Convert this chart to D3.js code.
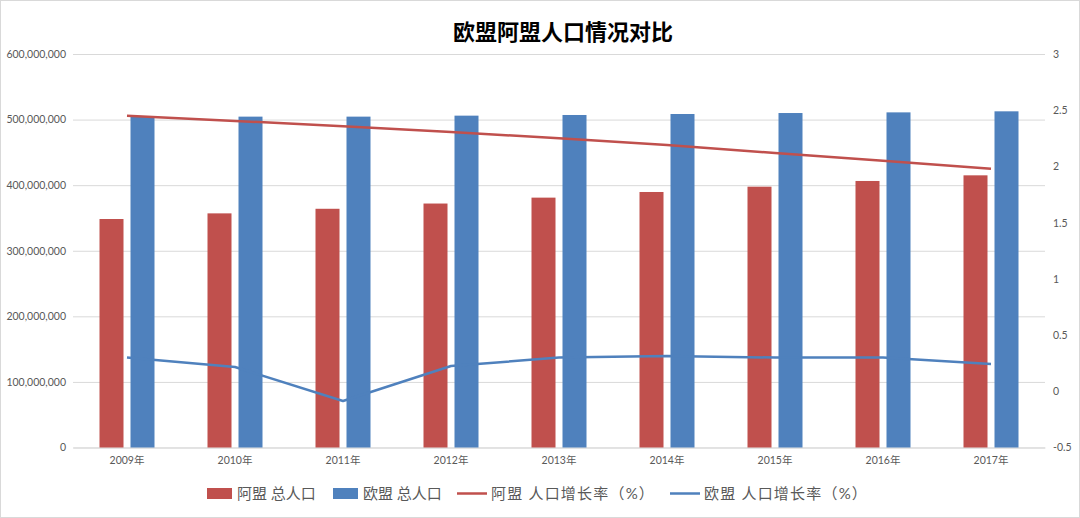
<!DOCTYPE html>
<html><head><meta charset="utf-8">
<script src="https://cdn.jsdelivr.net/npm/d3@7"></script>
<style>body{margin:0;background:#fff}svg{display:block}</style>
</head><body><svg id="c" width="1080" height="518"></svg>
<script>
const title = "欧盟阿盟人口情况对比";
const years = ["2009年","2010年","2011年","2012年","2013年","2014年","2015年","2016年","2017年"];
const aseanPop = [348.4e6, 357e6, 364e6, 372e6, 381e6, 389.6e6, 397.7e6, 406.4e6, 415e6];
const euPop = [504.4e6, 504.5e6, 504.5e6, 506e6, 507e6, 508.5e6, 510e6, 511e6, 512.6e6];
const aseanGrowth = [2.45, 2.405, 2.357, 2.307, 2.25, 2.19, 2.12, 2.05, 1.98];
const euGrowth = [0.30, 0.216, -0.086, 0.225, 0.30, 0.314, 0.30, 0.30, 0.243];
const leftTicks = [0, 100e6, 200e6, 300e6, 400e6, 500e6, 600e6];
const rightTicks = [-0.5, 0, 0.5, 1, 1.5, 2, 2.5, 3];
const legendNames = ["阿盟 总人口", "欧盟 总人口", "阿盟 人口增长率（%）", "欧盟 人口增长率（%）"];
const RED = "#c0504d", BLUE = "#4f81bd", GRID = "#d9d9d9", TXT = "#595959";
const FONT = "Lato, 'Noto Sans CJK SC', sans-serif";

const svg = d3.select("#c");
svg.append("rect").attr("x",0.5).attr("y",0.5).attr("width",1079).attr("height",517)
  .attr("fill","#fff").attr("stroke","#d9d9d9");

const L = 73, R = 1045, T = 54, B = 447.5;
const x = d3.scaleBand().domain(years).range([L, R]);
const yL = d3.scaleLinear().domain([0, 600e6]).range([B, T]);
const yR = d3.scaleLinear().domain([-0.5, 3]).range([B, T]);

const gAxisL = svg.append("g").attr("transform",`translate(${L},0)`)
  .call(d3.axisLeft(yL).tickValues(leftTicks).tickSize(-(R-L)).tickPadding(7)
    .tickFormat(d3.format(",")));
gAxisL.select(".domain").remove();
gAxisL.selectAll(".tick line").attr("stroke", GRID).attr("stroke-width",1);
gAxisL.selectAll(".tick text").attr("fill", TXT).style("font-family", FONT).style("font-size","10.5px");

const gAxisR = svg.append("g").attr("transform",`translate(${R},0)`)
  .call(d3.axisRight(yR).tickValues(rightTicks).tickSize(0).tickPadding(8).tickFormat(d => d));
gAxisR.select(".domain").remove();
gAxisR.selectAll(".tick text").attr("fill", TXT).style("font-family", FONT).style("font-size","10.5px");

const gAxisX = svg.append("g").attr("transform",`translate(0,${B})`)
  .call(d3.axisBottom(x).tickSize(0).tickPadding(9));
gAxisX.select(".domain").attr("stroke", GRID);
gAxisX.selectAll(".tick text").attr("fill", TXT).style("font-family", FONT).style("font-size","10.5px");

const bw = 24, gap = 7;
svg.append("g").selectAll("rect").data(years).join("rect")
  .attr("x", d => x(d) + x.bandwidth()/2 - gap/2 - bw)
  .attr("width", bw)
  .attr("y", (d,i) => yL(aseanPop[i]))
  .attr("height", (d,i) => yL(0) - yL(aseanPop[i]))
  .attr("fill", RED);
svg.append("g").selectAll("rect").data(years).join("rect")
  .attr("x", d => x(d) + x.bandwidth()/2 + gap/2)
  .attr("width", bw)
  .attr("y", (d,i) => yL(euPop[i]))
  .attr("height", (d,i) => yL(0) - yL(euPop[i]))
  .attr("fill", BLUE);

const line = d3.line().x(d => x(d[0]) + x.bandwidth()/2).y(d => yR(d[1]));
svg.append("path").datum(years.map((y,i)=>[y, aseanGrowth[i]])).attr("d", line)
  .attr("fill","none").attr("stroke",RED).attr("stroke-width",2.5).attr("stroke-linejoin","round");
svg.append("path").datum(years.map((y,i)=>[y, euGrowth[i]])).attr("d", line)
  .attr("fill","none").attr("stroke",BLUE).attr("stroke-width",2.5).attr("stroke-linejoin","round");

svg.append("text").attr("x", 563).attr("y", 40).attr("text-anchor","middle")
  .style("font-family","'Noto Sans CJK SC', sans-serif").style("font-weight","700")
  .style("font-size","22px").attr("fill","#000").text(title);

const lg = svg.append("g").style("font-family", FONT).style("font-size","15px").attr("fill", TXT);
const legendX = [207, 333, 457, 670];
const legendKind = ["bar","bar","line","line"];
const legendCol = [RED, BLUE, RED, BLUE];
legendNames.forEach((n,i) => {
  const x0 = legendX[i];
  if (legendKind[i] === "bar") {
    lg.append("rect").attr("x", x0).attr("y", 488).attr("width", 25).attr("height", 11).attr("fill", legendCol[i]);
  } else {
    lg.append("line").attr("x1", x0).attr("x2", x0+30).attr("y1", 493.5).attr("y2", 493.5)
      .attr("stroke", legendCol[i]).attr("stroke-width", 2.5);
  }
  const t = lg.append("text").attr("x", x0 + (legendKind[i]==="bar"?30:34)).attr("y", 499).text(n);
  if (legendKind[i] === "line") t.style("letter-spacing","1.2px");
});
</script></body></html>
